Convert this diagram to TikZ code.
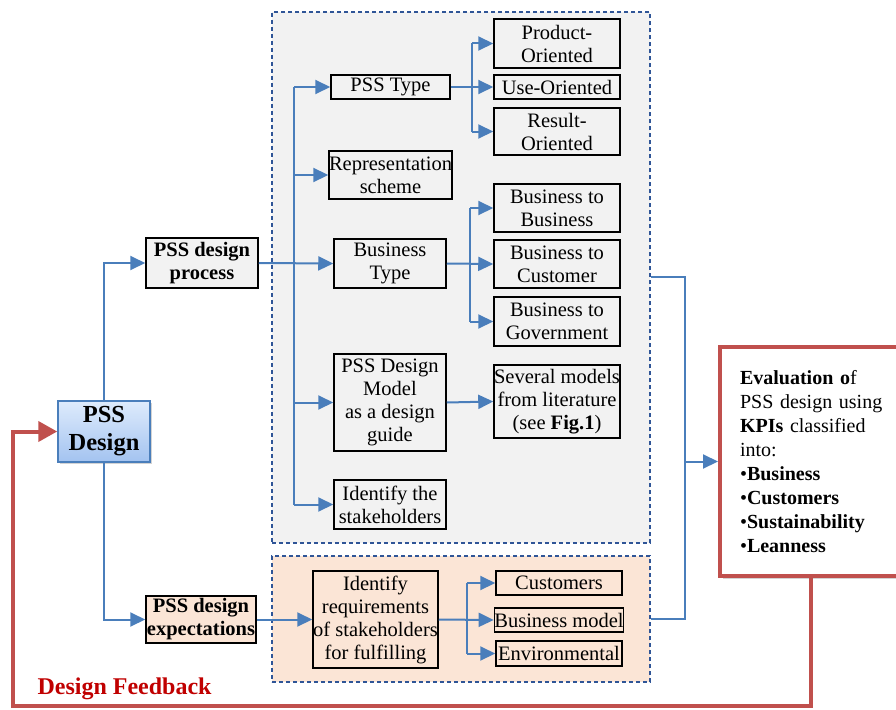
\documentclass[tikz,border=0pt]{standalone}
\usepackage{fontspec}
\setmainfont{Liberation Serif}
\usetikzlibrary{arrows.meta,shadows}
\definecolor{lnblue}{RGB}{74,126,187}
\definecolor{dashblue}{RGB}{47,85,151}
\definecolor{graybg}{RGB}{242,242,242}
\definecolor{peachbg}{RGB}{251,229,214}
\definecolor{fbred}{RGB}{192,80,77}
\definecolor{txtred}{RGB}{192,0,0}
\begin{document}
\begin{tikzpicture}[x=1pt,y=-1pt,
  every node/.style={font=\fontsize{20.5}{23}\selectfont},
  box/.style={draw=black,line width=1.5pt,inner sep=0pt,align=center,minimum width=#1},
  container/.style={draw=dashblue,line width=1.3pt,dash pattern=on 4pt off 3pt,inner sep=0pt},
  conn/.style={draw=lnblue,line width=2pt},
  arr/.style={draw=lnblue,line width=2pt,-{Triangle[length=15pt,width=14pt]}},
  fb/.style={draw=fbred,line width=4pt},
]
\useasboundingbox (0,0) rectangle (896,709);
% containers
\node[container,fill=graybg,minimum width=378pt,minimum height=531pt] (gbox) at (461,277.5) {};
\node[container,fill=peachbg,minimum width=378pt,minimum height=126pt] (pbox) at (461,619) {};

% main nodes
\node[draw=lnblue,line width=1.5pt,top color={rgb,255:red,222;green,235;blue,252},bottom color={rgb,255:red,163;green,195;blue,240},
  drop shadow={shadow xshift=2pt,shadow yshift=-2pt,opacity=0.35},
  minimum width=92pt,minimum height=61pt,inner sep=0pt,align=center,
  font=\fontsize{24.5}{28}\selectfont\bfseries] (design) at (104,431.5) {PSS\\Design};
\node[box=112pt,fill=graybg,minimum height=50pt,font=\fontsize{20.5}{23}\selectfont\bfseries] (proc) at (202,263) {PSS design\\process};
\node[box=110pt,fill=peachbg,minimum height=47pt,font=\fontsize{20.5}{23}\selectfont\bfseries] (expct) at (201,619.5) {PSS design\\expectations};

% process column
\node[box=119pt,minimum height=24pt] (type) at (390.5,87) {PSS Type};
\node[box=119pt,minimum height=48pt] (repr) at (390.5,175) {Representation\\scheme};
\node[box=112pt,minimum height=49pt] (btype) at (390,263.5) {Business\\Type};
\node[box=112pt,minimum height=97pt] (model) at (390,402.5) {PSS Design\\Model\\as a design\\guide};
\node[box=112pt,minimum height=49pt] (stake) at (390,504.5) {Identify the\\stakeholders};

\node[box=126pt,minimum height=49pt] (prod) at (557,43.5) {Product-\\Oriented};
\node[box=126pt,minimum height=24pt] (use) at (557,87) {Use-Oriented};
\node[box=126pt,minimum height=47pt] (res) at (557,131.5) {Result-\\Oriented};
\node[box=126pt,minimum height=48pt] (b2b) at (557,208) {Business to\\Business};
\node[box=126pt,minimum height=48pt] (b2c) at (557,264) {Business to\\Customer};
\node[box=126pt,minimum height=49pt] (b2g) at (557,321.5) {Business to\\Government};
\node[box=126pt,minimum height=73pt] (several) at (557,401.5) {Several models\\from literature\\(see \textbf{Fig.1})};

% expectations column
\node[box=125pt,minimum height=97pt] (ireq) at (375.5,619.5) {Identify\\requirements\\of stakeholders\\for fulfilling};
\node[box=126pt,minimum height=24pt] (cust) at (559,583) {Customers};
\node[box=126pt,minimum height=24pt] (bmod) at (559,620) {Business model};
\node[box=126pt,minimum height=25pt] (env) at (559,653.5) {Environmental};

% evaluation
\node[draw=fbred,line width=4pt,fill=white,
  drop shadow={shadow xshift=3pt,shadow yshift=-3pt,opacity=0.35},
  minimum width=190pt,minimum height=229pt,text width=150pt,inner xsep=20pt,align=left,
  font=\fontsize{20}{24}\selectfont] (eval) at (815,461.5)
  {\textbf{Evaluation o}f\\PSS design using\\\textbf{KPIs} classified\\into:\\\textbullet\textbf{Business}\\\textbullet\textbf{Customers}\\\textbullet\textbf{Sustainability}\\\textbullet\textbf{Leanness}};

\node[anchor=west,text=txtred,font=\fontsize{24}{27}\selectfont\bfseries] (fbtext) at (34,689) {Design Feedback};

% connectors
\coordinate (tr) at (294,0);
\coordinate (s1) at (472,0);
\coordinate (s2) at (470,0);
\coordinate (s3) at (467,0);
\draw[arr] (design.north) |- (proc.west);
\draw[arr] (design.south) |- (expct.west);
\draw[arr] (proc.east) -- (btype.west);
\draw[conn] (tr |- type.west) -- (tr |- stake.west);
\draw[arr] (tr |- type.west) -- (type.west);
\draw[arr] (tr |- repr.west) -- (repr.west);
\draw[arr] (tr |- model.west) -- (model.west);
\draw[arr] (tr |- stake.west) -- (stake.west);

\draw[arr] (type.east) -- (use.west);
\draw[conn] (s1 |- prod.west) -- (s1 |- res.west);
\draw[arr] (s1 |- prod.west) -- (prod.west);
\draw[arr] (s1 |- res.west) -- (res.west);

\draw[arr] (btype.east) -- (b2c.west);
\draw[conn] (s2 |- b2b.west) -- (s2 |- b2g.west);
\draw[arr] (s2 |- b2b.west) -- (b2b.west);
\draw[arr] (s2 |- b2g.west) -- (b2g.west);

\draw[arr] (model.east) -- (several.west);

\draw[arr] (expct.east) -- (ireq.west);
\draw[arr] (ireq.east) -- (bmod.west);
\draw[conn] (s3 |- cust.west) -- (s3 |- env.west);
\draw[arr] (s3 |- cust.west) -- (cust.west);
\draw[arr] (s3 |- env.west) -- (env.west);

\coordinate (b1) at (685,277);
\draw[conn] (gbox.east |- b1) -- (b1) |- (pbox.east);
\draw[arr] (b1 |- eval.west) -- (eval.west);

\coordinate (f1) at (811,706);
\coordinate (f2) at (13,706);
\draw[fb,-{Triangle[length=19pt,width=20pt]}] (eval.south -| f1) -- (f1) -- (f2) |- (design.west);
\end{tikzpicture}
\end{document}
